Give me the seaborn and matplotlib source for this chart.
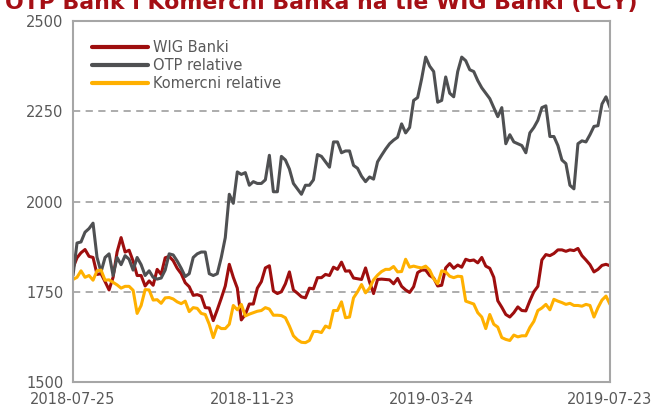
import matplotlib
matplotlib.use("Agg")
import matplotlib.pyplot as plt
import matplotlib.dates as mdates
import numpy as np
import pandas as pd
import seaborn as sns

# ---------------- data ----------------
start_date = "2018-07-25"
end_date = "2019-07-23"
n_points = 135

wig_banki = [
    1816, 1844, 1858, 1867, 1848, 1845, 1798, 1800, 1778, 1755,
    1790, 1860, 1900, 1860, 1865, 1835, 1795, 1795, 1766, 1780,
    1768, 1812, 1798, 1844, 1848, 1836, 1815, 1800, 1775, 1764,
    1740, 1742, 1738, 1706, 1705, 1670, 1700, 1732, 1766, 1826,
    1790, 1760, 1672, 1687, 1716, 1716, 1760, 1778, 1816, 1822,
    1752, 1745, 1750, 1772, 1805, 1755, 1746, 1736, 1733, 1760,
    1758, 1789, 1789, 1798, 1795, 1818, 1812, 1832, 1807, 1808,
    1788, 1786, 1784, 1816, 1777, 1745, 1784, 1785, 1784, 1783,
    1772, 1787, 1765, 1755, 1748, 1764, 1803, 1810, 1810, 1795,
    1788, 1766, 1768, 1816, 1828, 1815, 1824, 1818, 1840, 1836,
    1838, 1830, 1845, 1821, 1815, 1790, 1725, 1707, 1687, 1680,
    1692, 1708, 1698, 1697, 1725, 1750, 1765, 1838, 1853, 1850,
    1856, 1866, 1866, 1862, 1866, 1864, 1870, 1850, 1838, 1825,
    1805, 1812, 1823, 1826, 1822,
]

otp_relative = [
    1795, 1885, 1888, 1915, 1925, 1940, 1845, 1805, 1845, 1855,
    1795, 1845, 1825, 1850, 1840, 1810, 1845, 1825, 1795, 1808,
    1790, 1785, 1788, 1810, 1855, 1852, 1835, 1815, 1792, 1800,
    1845, 1855, 1860, 1860, 1800, 1795, 1800, 1845, 1900, 2020,
    1995, 2082, 2075, 2080, 2045, 2055, 2050, 2050, 2060, 2128,
    2027, 2027, 2125, 2115, 2090, 2050, 2035, 2020, 2045, 2045,
    2060, 2130, 2125, 2110, 2095, 2165, 2165, 2135, 2140, 2140,
    2100, 2092, 2070, 2055, 2068, 2062, 2110, 2128, 2145, 2160,
    2170, 2178, 2215, 2190, 2205, 2280, 2288, 2340, 2400, 2375,
    2360, 2275, 2280, 2345, 2300, 2290, 2360, 2400, 2390, 2365,
    2360, 2335, 2315, 2300, 2285, 2260, 2235, 2260, 2160, 2185,
    2165, 2160, 2155, 2135, 2190, 2205, 2225, 2260, 2265, 2180,
    2180, 2155, 2115, 2105, 2045, 2035, 2160, 2168, 2165, 2185,
    2208, 2210, 2270, 2290, 2260,
]

komercni_relative = [
    1784, 1790, 1808, 1790, 1795, 1782, 1808, 1810, 1782, 1783,
    1776, 1769, 1760, 1765, 1765, 1754, 1690, 1712, 1756, 1755,
    1727, 1728, 1718, 1733, 1734, 1730, 1722, 1717, 1724, 1695,
    1706, 1704, 1690, 1687, 1660, 1623, 1655, 1648, 1648, 1660,
    1712, 1700, 1715, 1683, 1688, 1692, 1696, 1698, 1706, 1702,
    1685, 1685, 1684, 1678, 1655, 1628, 1617, 1610, 1609, 1615,
    1640, 1640, 1637, 1655, 1650, 1698, 1698, 1722, 1678, 1680,
    1733, 1750, 1770, 1747, 1760, 1783, 1796, 1806, 1812, 1812,
    1820, 1805, 1806, 1840, 1818, 1821, 1818, 1816, 1821, 1810,
    1786, 1772, 1808, 1805, 1793, 1789, 1793, 1792, 1724, 1720,
    1716, 1692, 1680, 1648, 1687, 1660, 1652, 1623, 1618, 1615,
    1630, 1625, 1628, 1628, 1651, 1668, 1698, 1705, 1715, 1700,
    1729, 1724, 1720, 1715, 1718, 1712, 1712, 1710, 1715, 1712,
    1680, 1706, 1727, 1738, 1715,
]

series_names = ["WIG Banki", "OTP relative", "Komercni relative"]
series_colors = ["#9E0E0E", "#4F5052", "#FFB000"]
x_tick_labels = ["2018-07-25", "2018-11-23", "2019-03-24", "2019-07-23"]
y_ticks = [1500, 1750, 2000, 2250, 2500]
title = "OTP Bank i Komercni Banka na tle WIG Banki (LCY)"

# ---------------- build table ----------------
dates = pd.date_range(start_date, end_date, periods=n_points)
frames = []
for name, vals in zip(series_names, [wig_banki, otp_relative, komercni_relative]):
    frames.append(pd.DataFrame({"date": dates, "value": vals, "series": name}))
df = pd.concat(frames, ignore_index=True)

# ---------------- style ----------------
sns.set_style("white")
plt.rcParams["font.family"] = ["DejaVu Sans"]
text_grey = "#595959"
axis_grey = "#A6A6A6"

fig = plt.figure(figsize=(6.68, 4.18), dpi=100)
ax = fig.add_axes([73 / 668, 1 - 382 / 418, (610 - 73) / 668, (382 - 21) / 418])

sns.lineplot(
    data=df, x="date", y="value", hue="series",
    hue_order=series_names, palette=dict(zip(series_names, series_colors)),
    linewidth=2.2, ax=ax, legend=True,
)

ax.set_xlim(pd.Timestamp(start_date), pd.Timestamp(end_date))
ax.set_ylim(y_ticks[0], y_ticks[-1])
ax.set_yticks(y_ticks)
ax.set_xticks([pd.Timestamp(t) for t in x_tick_labels])
ax.xaxis.set_major_formatter(mdates.DateFormatter("%Y-%m-%d"))
ax.set_xlabel("")
ax.set_ylabel("")

for g in y_ticks[1:-1]:
    ax.axhline(g, color=axis_grey, linewidth=1.3, linestyle=(0, (4, 3)), zorder=0)

for s in ax.spines.values():
    s.set_visible(True)
    s.set_color(axis_grey)
    s.set_linewidth(1.5)

ax.tick_params(axis="both", which="major", direction="out", length=4,
               width=1.2, color=axis_grey, labelcolor=text_grey, labelsize=10.5)
ax.tick_params(axis="x", pad=3)
ax.tick_params(axis="y", pad=3)

leg = ax.legend(
    loc="upper left", bbox_to_anchor=(0.036, 0.947), frameon=False,
    fontsize=10.5, handlelength=3.8, handletextpad=0.35, labelspacing=0.2,
    borderpad=0, borderaxespad=0,
)
for t in leg.get_texts():
    t.set_color(text_grey)
for h in leg.get_lines():
    h.set_linewidth(3)

fig.text(5 / 668, 1 - 9 / 418, title, ha="left", va="baseline",
         fontsize=15.8, fontweight="bold", color="#A50F15")

fig.savefig("out.png", dpi=100)
